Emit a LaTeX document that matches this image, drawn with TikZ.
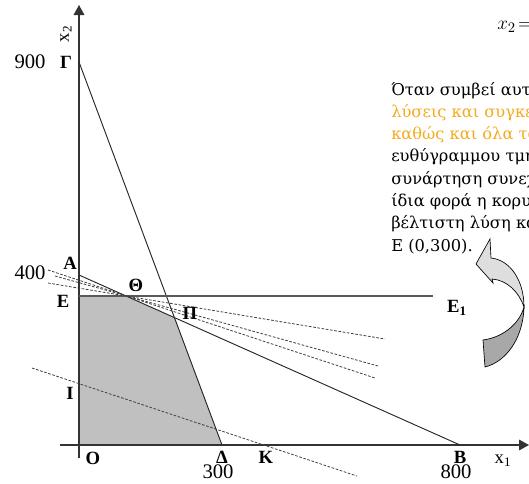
\documentclass[tikz,border=0pt]{standalone}
\usepackage{fontspec}
\setmainfont{Liberation Serif}
\newfontfamily\parafont{DejaVu Serif}
\usepackage{xcolor}
\usepackage{tikz}
\usetikzlibrary{arrows.meta}

\definecolor{feasgray}{RGB}{192,192,192}
\definecolor{txtorange}{RGB}{245,170,30}
\definecolor{arrowlight}{RGB}{222,222,222}
\definecolor{arrowdark}{RGB}{168,168,168}

\begin{document}
\begin{tikzpicture}[
    x=0.75pt, y=-0.75pt,
    axis/.style={draw=black!80, line width=0.9pt, -{Triangle[length=7.5pt, width=8pt]}},
    constr/.style={draw=black!85, line width=0.7pt},
    isoline/.style={draw=black!75, line width=0.6pt, dash pattern=on 2pt off 1.2pt},
    ptlabel/.style={font=\fontsize{14}{14}\selectfont\bfseries, inner sep=0pt},
    numlabel/.style={font=\fontsize{15.5}{15.5}\selectfont, inner sep=0pt},
    paraline/.style={font=\parafont\fontsize{12.2}{16.7}\selectfont, anchor=base west, inner sep=0pt}
]
    \clip (0,0) rectangle (529,483);

    % Corner points
    \coordinate (O) at (79,445);
    \coordinate (Gamma) at (79,62);
    \coordinate (A) at (79,275);
    \coordinate (E) at (79,296);
    \coordinate (E1) at (433,296);
    \coordinate (Delta) at (222,445);
    \coordinate (B) at (460,445);
    \coordinate (Theta) at (intersection of A--B and E--E1);
    \coordinate (Pi) at (intersection of Gamma--Delta and A--B);

    % Feasible region
    \fill[feasgray] (O) -- (E) -- (Theta) -- (Pi) -- (Delta) -- cycle;

    % Axes
    \coordinate (ybot) at (79,458);
    \coordinate (ytop) at (79,5);
    \coordinate (xleft) at (60,445);
    \coordinate (xright) at (529,445);
    \draw[axis] (ybot) -- (ytop);
    \draw[axis] (xleft) -- (xright);

    % Constraints
    \draw[constr] (Gamma) -- (Delta);
    \draw[constr] (A) -- (B);
    \draw[constr, draw=black!65, line width=1.2pt] (E) -- (E1);

    % Objective lines
    \coordinate (z1a) at (48,283);
    \coordinate (z1b) at (385,339);
    \coordinate (z2a) at (55,276);
    \coordinate (z2b) at (378,366);
    \coordinate (z3a) at (48,270);
    \coordinate (z3b) at (375,378);
    \coordinate (z4a) at (32,368);
    \coordinate (z4b) at (357,476);
    \draw[isoline] (z1a) -- (z1b);
    \draw[isoline] (z2a) -- (z2b);
    \draw[isoline] (z3a) -- (z3b);
    \draw[isoline] (z4a) -- (z4b);

    % Axis labels
    \node[font=\fontsize{14}{14}\selectfont, rotate=90, inner sep=0pt] (lx2) at (66,34) {x\textsubscript{2}};
    \node[font=\fontsize{14}{14}\selectfont, inner sep=0pt] (lx1) at (503,461) {x\textsubscript{1}};
    \node[numlabel] (n900) at (30,62) {900};
    \node[numlabel] (n400) at (30,273) {400};
    \node[numlabel] (n300) at (218,472) {300};
    \node[numlabel] (n800) at (456,472) {800};

    % Point labels
    \node[ptlabel] (lGamma) at (66,62) {Γ};
    \node[ptlabel] (lA) at (70,263) {A};
    \node[ptlabel] (lE) at (63,301) {E};
    \node[ptlabel] (lTheta) at (136,285) {Θ};
    \node[ptlabel] (lPi) at (190,313) {Π};
    \node[ptlabel] (lE1) at (457,308) {E\textsubscript{1}};
    \node[ptlabel] (lI) at (70,393) {I};
    \node[ptlabel] (lO) at (93,458) {O};
    \node[ptlabel] (lDelta) at (222,457) {Δ};
    \node[ptlabel] (lK) at (266,457) {K};
    \node[ptlabel] (lB) at (460,457) {B};

    % Text at the right
    \node[font=\fontsize{15}{15}\selectfont, anchor=west, inner sep=0pt] (eqx2) at (497,27) {$x_2\!=$};
    \node[paraline] (p1) at (391,95) {Όταν συμβεί αυτό};
    \node[paraline, text=txtorange] (p2) at (391,117.3) {λύσεις και συγκεκριμένα};
    \node[paraline, text=txtorange] (p3) at (391,139.6) {καθώς και όλα τα σημεία};
    \node[paraline] (p4) at (391,161.9) {ευθύγραμμου τμήματος};
    \node[paraline] (p5) at (391,184.2) {συνάρτηση συνεχίζει};
    \node[paraline] (p6) at (391,206.5) {ίδια φορά η κορυφή};
    \node[paraline] (p7) at (391,228.8) {βέλτιστη λύση και};
    \node[paraline] (p8) at (391,251.1) {Ε (0,300).};

    % Curved arrow
    \filldraw[fill=arrowlight, draw=black, line width=0.5pt] (490,239) -- (491,258) .. controls (510,260) and (524,280) .. (524,307) .. controls (519,292) and (507,280) .. (492,279) -- (493,283) -- (476,264) -- cycle;
    \filldraw[fill=arrowdark, draw=black, line width=0.5pt] (524,307) .. controls (523,340) and (505,362) .. (485,367) -- (483,340) .. controls (505,337) and (520,322) .. (524,307) -- cycle;
\end{tikzpicture}
\end{document}
